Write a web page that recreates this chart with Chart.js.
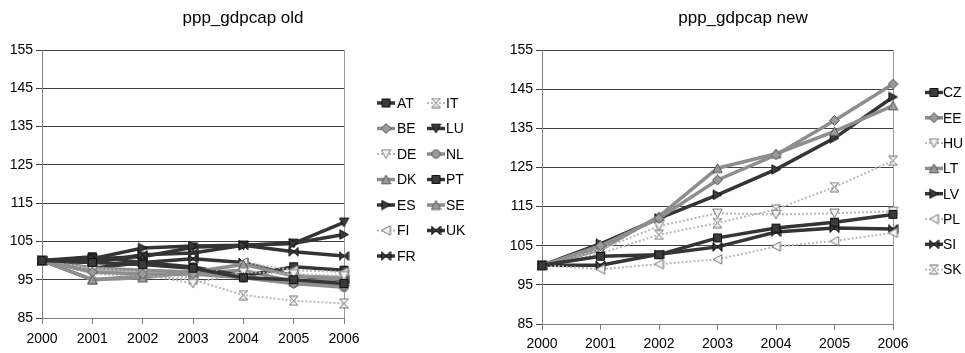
<!DOCTYPE html>
<html>
<head>
<meta charset="utf-8">
<script src="https://cdn.jsdelivr.net/npm/chart.js@4.4.1/dist/chart.umd.min.js"></script>
<style>
  html, body { margin: 0; padding: 0; background: #fff; }
  #wrap { position: relative; width: 965px; height: 353px; }
  .panel { position: absolute; top: 0; height: 353px; }
  #p1 { left: 0; width: 480px; }
  #p2 { left: 480px; width: 485px; }
</style>
</head>
<body>
<div id="wrap">
  <div class="panel" id="p1"><canvas id="oldChart" width="480" height="353"></canvas></div>
  <div class="panel" id="p2"><canvas id="newChart" width="485" height="353"></canvas></div>
</div>
<script>
// Data
const years = ['2000', '2001', '2002', '2003', '2004', '2005', '2006'];
const yTicks = [85, 95, 105, 115, 125, 135, 145, 155];

// old member states
const oldNames = ['AT', 'BE', 'DE', 'DK', 'ES', 'FI', 'FR', 'IT', 'LU', 'NL', 'PT', 'SE', 'UK'];
const AT = [100, 99.5, 99, 98, 95.5, 95, 94];
const BE = [100, 97, 96.5, 96.5, 95.5, 94, 93.5];
const DE = [100, 97.5, 96.5, 94, 97, 96.5, 96];
const DK = [100, 95, 95.5, 97, 99, 96, 95.5];
const ES = [100, 100.5, 103.3, 103.8, 104, 104.5, 106.8];
const FI = [100, 98, 97, 95.5, 99.5, 97.5, 97];
const FR = [100, 99.5, 101.5, 102, 104, 102.3, 101.2];
const IT = [100, 96.5, 96, 95, 91, 89.5, 88.8];
const LU = [100, 100.5, 101, 103.5, 104, 104.5, 110];
const NL = [100, 98, 97.5, 97, 96, 94, 93];
const PT = [100, 101, 99.5, 98.3, 96, 98.4, 97.5];
const SE = [100, 95, 96, 96.7, 97.5, 94.5, 95.4];
const UK = [100, 98, 99.5, 100.5, 99.5, 96, 95];

// new member states
const newNames = ['CZ', 'EE', 'HU', 'LT', 'LV', 'PL', 'SI', 'SK'];
const CZ = [100, 102.3, 102.7, 107, 109.5, 111, 113];
const EE = [100, 105, 112, 121.8, 128.2, 137, 146.3];
const HU = [100, 104, 110, 113.3, 113, 113.3, 113.8];
const LT = [100, 104, 112.5, 124.8, 128.5, 134.2, 140.8];
const LV = [100, 105.5, 112, 118, 124.5, 132.5, 143];
const PL = [100, 99, 100.3, 101.5, 104.8, 106.2, 108.3];
const SI = [100, 100, 102.8, 104.7, 108.5, 109.5, 109.3];
const SK = [100, 103, 107.8, 110.8, 114.3, 120, 126.7];

const seriesByName = { AT, BE, DE, DK, ES, FI, FR, IT, LU, NL, PT, SE, UK, CZ, EE, HU, LT, LV, PL, SI, SK };

// look of each series: tone + marker shape
const looks = {
  AT: ['dark', 'square'], BE: ['gray', 'diamond'], DE: ['light', 'triDown'], DK: ['gray', 'triUp'],
  ES: ['dark', 'triRight'], FI: ['light', 'triLeft'], FR: ['dark', 'bowtie'], IT: ['light', 'hourglass'],
  LU: ['dark', 'triDown'], NL: ['gray', 'circle'], PT: ['dark', 'square'], SE: ['gray', 'triUp'],
  UK: ['dark', 'bowtie'],
  CZ: ['dark', 'square'], EE: ['gray', 'diamond'], HU: ['light', 'triDown'], LT: ['gray', 'triUp'],
  LV: ['dark', 'triRight'], PL: ['light', 'triLeft'], SI: ['dark', 'bowtie'], SK: ['light', 'hourglass']
};

const tones = {
  dark:  { line: '#353535', width: 3.5, dash: [], fill: '#3a3a3a', stroke: '#111' },
  gray:  { line: '#8e8e8e', width: 3.5, dash: [], fill: '#9a9a9a', stroke: '#555' },
  light: { line: '#b8b8b8', width: 2, dash: [2, 2], fill: '#f2f2f2', stroke: '#777' }
};

const FONT = '"Liberation Sans", Arial, sans-serif';

// small canvas markers
function makeMarker(shape, tone) {
  const c = document.createElement('canvas');
  c.width = 11; c.height = 11;
  const g = c.getContext('2d');
  g.beginPath();
  if (shape === 'square') {
    g.rect(1.5, 1.5, 8, 8);
  } else if (shape === 'diamond') {
    g.moveTo(5.5, 0.5); g.lineTo(10.5, 5.5); g.lineTo(5.5, 10.5); g.lineTo(0.5, 5.5); g.closePath();
  } else if (shape === 'triUp') {
    g.moveTo(5.5, 1); g.lineTo(10.2, 9.8); g.lineTo(0.8, 9.8); g.closePath();
  } else if (shape === 'triDown') {
    g.moveTo(0.8, 1.2); g.lineTo(10.2, 1.2); g.lineTo(5.5, 10); g.closePath();
  } else if (shape === 'triRight') {
    g.moveTo(1.2, 0.8); g.lineTo(10, 5.5); g.lineTo(1.2, 10.2); g.closePath();
  } else if (shape === 'triLeft') {
    g.moveTo(9.8, 0.8); g.lineTo(1, 5.5); g.lineTo(9.8, 10.2); g.closePath();
  } else if (shape === 'bowtie') {
    g.moveTo(1, 1); g.lineTo(5.5, 5.5); g.lineTo(1, 10); g.closePath();
    g.moveTo(10, 1); g.lineTo(5.5, 5.5); g.lineTo(10, 10); g.closePath();
  } else if (shape === 'hourglass') {
    g.moveTo(1, 1); g.lineTo(10, 1); g.lineTo(5.5, 5.5); g.closePath();
    g.moveTo(5.5, 5.5); g.lineTo(10, 10); g.lineTo(1, 10); g.closePath();
  } else {
    g.arc(5.5, 5.5, 4.2, 0, Math.PI * 2);
  }
  g.fillStyle = tones[tone].fill;
  g.fill();
  g.lineWidth = 1;
  g.strokeStyle = tones[tone].stroke;
  g.stroke();
  return c;
}

const markers = {};
Object.keys(looks).forEach(n => { markers[n] = makeMarker(looks[n][1], looks[n][0]); });

// title and legend drawn on the canvas
const panelText = {
  id: 'panelText',
  afterDraw(chart, args, opts) {
    const ctx = chart.ctx;
    ctx.save();
    ctx.fillStyle = '#000';
    ctx.font = '17px ' + FONT;
    ctx.textAlign = 'center';
    ctx.textBaseline = 'middle';
    ctx.fillText(opts.title, opts.titleX, opts.titleY);

    ctx.font = '14px ' + FONT;
    ctx.textAlign = 'left';
    opts.names.forEach((n, i) => {
      const col = Math.floor(i / opts.perCol);
      const row = i % opts.perCol;
      const y = opts.rowY + row * opts.rowStep;
      const mx = opts.markerX[col];
      const t = tones[looks[n][0]];
      ctx.beginPath();
      ctx.setLineDash(t.dash);
      ctx.strokeStyle = t.line;
      ctx.lineWidth = t.width;
      ctx.moveTo(mx - 9, y);
      ctx.lineTo(mx + 9, y);
      ctx.stroke();
      ctx.setLineDash([]);
      ctx.drawImage(markers[n], mx - 5.5, y - 5.5);
      ctx.fillStyle = '#000';
      ctx.fillText(n, opts.textX[col], y + 1);
    });
    ctx.restore();
  }
};

function buildChart(id, names, cfg) {
  return new Chart(document.getElementById(id), {
    type: 'line',
    data: {
      labels: years,
      datasets: names.map(n => {
        const t = tones[looks[n][0]];
        return {
          label: n,
          data: seriesByName[n],
          borderColor: t.line,
          borderWidth: t.width,
          borderDash: t.dash,
          pointStyle: markers[n],
          pointRadius: 5,
          tension: 0,
          fill: false
        };
      })
    },
    plugins: [panelText],
    options: {
      responsive: false,
      animation: false,
      layout: { padding: { left: 0, right: cfg.padRight, top: 50, bottom: 0 } },
      plugins: {
        legend: { display: false },
        title: { display: false },
        tooltip: { enabled: false },
        panelText: cfg.text
      },
      scales: {
        x: {
          grid: {
            drawOnChartArea: true,
            color: c => (c.index === years.length - 1 ? '#9a9a9a' : 'rgba(0,0,0,0)'),
            tickColor: '#808080',
            tickLength: 6
          },
          border: { color: '#808080', width: 1 },
          ticks: { color: '#000', font: { size: 14, family: FONT }, padding: cfg.xPad, maxRotation: 0, autoSkip: false },
          afterFit: s => { s.height = cfg.xHeight; }
        },
        y: {
          min: yTicks[0],
          max: yTicks[yTicks.length - 1],
          afterBuildTicks: s => { s.ticks = yTicks.map(v => ({ value: v })); },
          grid: { color: '#404040', tickColor: '#404040', tickLength: 6 },
          border: { color: '#808080', width: 1 },
          ticks: { color: '#000', font: { size: 14, family: FONT }, padding: 3 },
          afterFit: s => { s.width = cfg.yWidth; }
        }
      }
    }
  });
}

buildChart('oldChart', oldNames, {
  padRight: 136, xHeight: 35, yWidth: 42, xPad: 7,
  text: { title: 'ppp_gdpcap old', titleX: 243, titleY: 18, names: oldNames, perCol: 7,
          rowY: 103, rowStep: 25.5, markerX: [386, 436], textX: [397, 446] }
});

buildChart('newChart', newNames, {
  padRight: 72, xHeight: 29, yWidth: 62, xPad: 6,
  text: { title: 'ppp_gdpcap new', titleX: 263, titleY: 18, names: newNames, perCol: 8,
          rowY: 92.5, rowStep: 25.3, markerX: [454], textX: [463] }
});
</script>
</body>
</html>
